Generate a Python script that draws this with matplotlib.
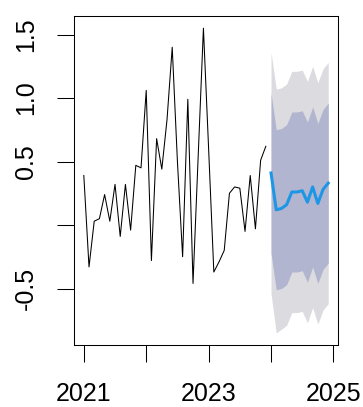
import numpy as np
import matplotlib.pyplot as plt

plt.rcParams['font.family'] = ['Liberation Sans', 'DejaVu Sans']

# monthly observations Jan 2021 - Dec 2023
obs_start = 2021.0
observed = [0.39, -0.33, 0.03, 0.05, 0.24, 0.03, 0.32, -0.09, 0.32, -0.04,
            0.47, 0.45, 1.06, -0.28, 0.68, 0.44, 0.83, 1.40, 0.50, -0.25,
            0.99, -0.46, 0.55, 1.55, 0.60, -0.37, -0.29, -0.20, 0.25, 0.30,
            0.29, -0.05, 0.39, -0.03, 0.51, 0.62]

# forecast Jan 2024 - Dec 2024
fc_start = 2024.0
fc_mean = [0.41, 0.12, 0.13, 0.16, 0.26, 0.26, 0.27, 0.18, 0.30, 0.17, 0.28, 0.33]
hi80 = [1.04, 0.75, 0.76, 0.79, 0.89, 0.89, 0.90, 0.81, 0.93, 0.80, 0.91, 0.96]
lo80 = [-0.22, -0.51, -0.50, -0.47, -0.37, -0.37, -0.36, -0.45, -0.33, -0.46, -0.35, -0.30]
hi95 = [1.36, 1.07, 1.08, 1.11, 1.21, 1.21, 1.22, 1.13, 1.25, 1.12, 1.23, 1.28]
lo95 = [-0.54, -0.85, -0.82, -0.79, -0.69, -0.69, -0.68, -0.77, -0.65, -0.78, -0.67, -0.62]

x_ticks = [2021, 2022, 2023, 2024, 2025]
x_labels = ["2021", "", "2023", "", "2025"]
y_ticks = [-0.5, 0.0, 0.5, 1.0, 1.5]
y_labels = ["-0.5", "", "0.5", "1.0", "1.5"]

t_obs = obs_start + np.arange(len(observed)) / 12
t_fc = fc_start + np.arange(len(fc_mean)) / 12

fig = plt.figure(figsize=(3.63, 4.07), dpi=100)
ax = fig.add_axes([0.2039, 0.1523, 0.7272, 0.8084])

ax.fill_between(t_fc, lo95, hi95, color="#dbdbe0", linewidth=0)
ax.fill_between(t_fc, lo80, hi80, color="#b1b5cf", linewidth=0)
ax.plot(t_obs, observed, color="black", linewidth=0.75)
ax.plot(t_fc, fc_mean, color="#1e96e6", linewidth=2.2)

ax.set_xlim(2020.843, 2025.073)
ax.set_ylim(-0.945, 1.646)

ax.set_xticks(x_ticks)
ax.set_xticklabels(x_labels)
ax.set_yticks(y_ticks)
ax.set_yticklabels(y_labels, rotation=90, va="center")

ax.tick_params(direction="out", length=12.2, width=0.75,
               labelsize=18, colors="black")
ax.tick_params(axis="x", pad=14.5)
ax.tick_params(axis="y", pad=13.5)
for s in ax.spines.values():
    s.set_linewidth(0.75)

fig.savefig("out.png", dpi=100)
